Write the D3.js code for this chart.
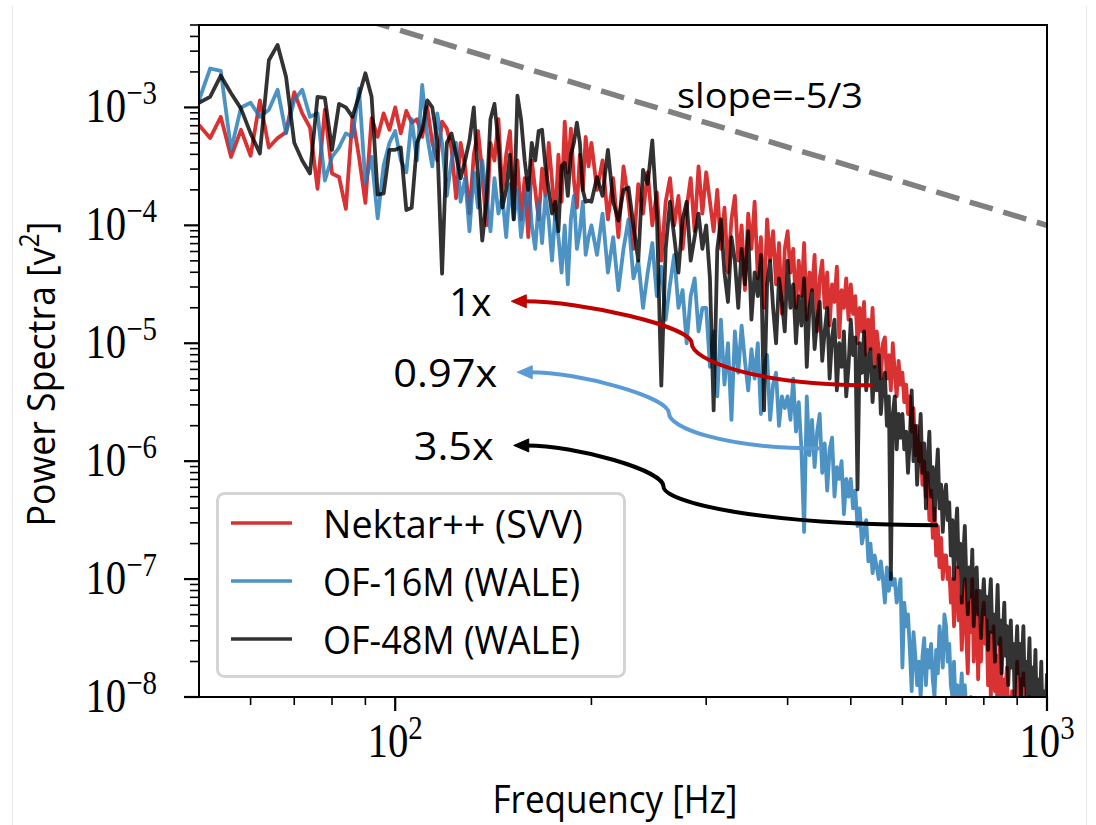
<!DOCTYPE html>
<html><head><meta charset="utf-8">
<script src="https://cdn.jsdelivr.net/npm/d3@7"></script>
<style>body{margin:0;background:#fff;} svg{display:block;}</style>
</head><body><svg id="chart" width="1096" height="825"></svg>
<script>
// ---- frequency grid rows (start Hz, step Hz); values below are log10(power)*100
const rowStart = [50,100,150,200,300,400,500,600,700,800,900,1000];
const rowStep  = [2,2,2,4,4,4,4,4,4,4,4,4];

const nektar = [
 [-315,-326,-308,-342,-319,-341,-294,-334,-326,-321,-287,-305,-317,-369,-302,-356,-359,-386,-308,-342,-381,-309,-325,-305,-319],
 [-300,-322,-303,-313,-310,-325,-300,-330,-345,-312,-318,-335,-377,-330,-350,-390,-340,-320,-355,-400,-330,-345,-310,-372,-340],
 [-320,-380,-345,-395,-360,-410,-345,-370,-395,-352,-375,-330,-362,-395,-340,-380,-312,-355,-318,-362,-385,-340,-370,-325,-350],
 [-330,-370,-345,-395,-360,-410,-350,-380,-420,-365,-390,-355,-400,-372,-430,-380,-360,-400,-375,-420,-385,-360,-405,-350,-390],
 [-355,-380,-405,-370,-420,-385,-440,-395,-375,-430,-400,-455,-390,-420,-380,-445,-410,-470,-395,-430,-405,-450,-415,-475,-420],
 [-405,-440,-420,-470,-430,-460,-415,-480,-440,-455,-425,-490,-445,-430,-470,-440,-485,-450,-465,-435,-495,-455,-470,-445,-480],
 [-450,-475,-460,-500,-470,-490,-465,-510,-480,-505,-470,-520,-490,-505,-530,-500,-495,-530,-510,-540,-500,-525,-545,-515,-535],
 [-525,-550,-535,-560,-545,-575,-555,-595,-570,-600,-585,-620,-600,-630,-610,-650,-625,-665,-640,-680,-655,-690,-665,-700,-680],
 [-680,-700,-690,-720,-700,-740,-710,-690,-735,-715,-760,-725,-700,-750,-780,-720,-745,-700,-770,-735,-710,-785,-740,-770,-730],
 [-720,-755,-735,-790,-745,-800,-760,-740,-795,-765,-820,-770,-750,-800,-785,-835,-790,-775,-820,-800,-845,-795,-830,-810,-850],
 [-770,-805,-785,-830,-800,-780,-825,-810,-845,-805,-800,-850,-830,-870,-820,-845,-875,-855,-885,-865,-895,-875,-905,-885,-915],
 [-920]
];
const of16 = [
 [-294,-267,-269,-336,-300,-296,-308,-302,-285,-322,-294,-285,-308,-305,-362,-342,-334,-322,-325,-284,-364,-342,-394,-349,-330],
 [-320,-345,-355,-310,-345,-281,-325,-350,-305,-330,-375,-345,-330,-380,-360,-405,-355,-385,-345,-375,-405,-360,-390,-375,-410],
 [-365,-395,-370,-410,-385,-360,-400,-420,-380,-415,-375,-395,-430,-390,-410,-440,-400,-450,-395,-375,-420,-405,-380,-425,-410],
 [-400,-425,-390,-440,-410,-455,-420,-395,-445,-430,-470,-440,-415,-460,-435,-480,-450,-425,-470,-455,-500,-460,-445,-490,-470],
 [-470,-520,-490,-545,-480,-535,-500,-565,-490,-525,-485,-515,-540,-505,-530,-500,-560,-520,-510,-565,-535,-525,-570,-545,-555],
 [-545,-565,-530,-575,-550,-590,-660,-545,-595,-565,-605,-575,-560,-610,-585,-625,-590,-580,-630,-605,-615,-600,-645,-615,-630],
 [-615,-640,-625,-655,-640,-670,-660,-650,-685,-670,-695,-680,-690,-700,-685,-700,-720,-690,-710,-695,-705,-700,-720,-712,-700],
 [-775,-720,-740,-730,-760,-795,-745,-765,-790,-770,-800,-766,-750,-790,-760,-775,-755,-785,-800,-760,-780,-740,-755,-775,-730],
 [-740,-770,-755,-790,-800,-770,-810,-790,-820,-800,-780,-830,-790,-810,-840,-820,-800,-850,-830,-860,-840,-870,-850,-880,-860],
 [-890,-910,-900,-930,-915,-940,-925,-950,-935,-960,-945,-970,-955,-980,-965,-990,-975,-1000,-985,-1010,-995,-1020,-1005,-1030,-1015],
 [-1020,-1040,-1030,-1050,-1040,-1060,-1050,-1070,-1060,-1080,-1070,-1090,-1080,-1100,-1090,-1110,-1100,-1120,-1110,-1130,-1120,-1140,-1130,-1150,-1140],
 [-1150]
];
const of48 = [
 [-296,-291,-273,-288,-301,-322,-339,-260,-247,-274,-330,-345,-356,-291,-292,-336,-297,-300,-308,-290,-271,-291,-374,-373,-336],
 [-336,-334,-387,-385,-330,-319,-294,-300,-328,-441,-330,-322,-340,-360,-345,-328,-300,-360,-413,-380,-310,-297,-330,-385,-370],
 [-340,-395,-290,-310,-345,-370,-330,-345,-320,-319,-350,-370,-390,-380,-405,-350,-347,-375,-340,-330,-313,-330,-370,-380,-379],
 [-380,-359,-375,-336,-380,-396,-370,-368,-400,-430,-353,-365,-328,-390,-536,-420,-380,-410,-440,-395,-380,-430,-410,-390,-420],
 [-400,-445,-557,-420,-395,-440,-465,-410,-430,-470,-420,-450,-405,-480,-440,-460,-425,-557,-450,-430,-470,-500,-445,-465,-490],
 [-430,-470,-450,-500,-460,-485,-445,-520,-470,-455,-505,-480,-465,-515,-490,-470,-530,-495,-480,-540,-500,-520,-490,-545,-520],
 [-480,-510,-495,-624,-500,-525,-490,-540,-515,-505,-550,-520,-540,-510,-560,-535,-525,-570,-545,-700,-560,-545,-590,-560,-580],
 [-560,-590,-575,-610,-580,-540,-600,-570,-620,-590,-560,-610,-585,-640,-600,-575,-630,-605,-650,-615,-590,-640,-620,-660,-630],
 [-620,-650,-635,-680,-650,-700,-660,-640,-690,-670,-720,-680,-655,-700,-730,-690,-715,-675,-740,-700,-690,-730,-710,-750,-720],
 [-700,-730,-715,-760,-720,-700,-745,-730,-770,-740,-705,-755,-735,-780,-745,-720,-765,-740,-790,-760,-735,-775,-755,-800,-765],
 [-740,-780,-755,-800,-765,-740,-790,-770,-820,-780,-750,-800,-775,-830,-790,-760,-810,-785,-840,-800,-770,-820,-795,-850,-810],
 [-780]
];

const seriesNames  = ["Nektar++ (SVV)", "OF-16M (WALE)", "OF-48M (WALE)"];
const seriesColors = ["#d62728", "#1f77b4", "#000000"];
const seriesAlpha  = [0.95, 0.8, 0.8];

const xMajorTicks = [100, 1000];
const xMajorExp   = ["2", "3"];
const yMajorTicks = [1e-8, 1e-7, 1e-6, 1e-5, 1e-4, 1e-3];
const yMajorExp   = ["−8", "−7", "−6", "−5", "−4", "−3"];

// reference -5/3 line endpoints (Hz, power)
const slopeRef = [[50, 1.47e-2], [1000, 1.0e-4]];
const slopeText = "slope=-5/3";

// speed-up annotations: head, kink, tail in data coords (Hz, power)
const arrowLabels = ["1x", "0.97x", "3.5x"];
const arrowColors = ["#c00000", "#5b9bd5", "#000000"];
const arrowHead = [[150.7, 2.27e-5], [153.9, 5.68e-6], [152, 1.36e-6]];
const arrowKink = [[285, 1.0e-5], [263, 2.55e-6], [258, 6.1e-7]];
const arrowTail = [[540, 4.4e-6], [451, 1.28e-6], [680, 2.86e-7]];

// ---------------------------------------------------------------
const svg = d3.select("#chart");
const L = 199, R = 1047, T = 25, B = 697;
const x = d3.scaleLog().domain([50, 1000]).range([L, R]);
const y = d3.scaleLog().domain([1e-8, 5e-3]).range([B, T]);

svg.append("rect").attr("width", 1096).attr("height", 825).attr("fill", "#fff");
[12.5, 1086.5].forEach(px => svg.append("line").attr("x1", px).attr("x2", px)
  .attr("y1", 6).attr("y2", 825).attr("stroke", "#e6e6e6").attr("stroke-width", 1));

svg.append("defs").append("clipPath").attr("id", "clip")
  .append("rect").attr("x", L).attr("y", T).attr("width", R - L).attr("height", B - T);

const plot = svg.append("g").attr("clip-path", "url(#clip)");

function build(rows) {
  const pts = [];
  rows.forEach((row, r) => row.forEach((v, i) => pts.push([rowStart[r] + i * rowStep[r], Math.pow(10, v / 100)])));
  return pts;
}
const allSeries = [nektar, of16, of48].map(build);
const line = d3.line().x(d => x(d[0])).y(d => y(d[1]));

allSeries.forEach((s, i) => {
  plot.append("path").datum(s).attr("d", line)
    .attr("fill", "none").attr("stroke", seriesColors[i]).attr("stroke-opacity", seriesAlpha[i])
    .attr("stroke-width", 3.8).attr("stroke-linejoin", "round");
});

// slope line
plot.append("path").datum(slopeRef).attr("d", line)
  .attr("fill", "none").attr("stroke", "#808080").attr("stroke-width", 5.5)
  .attr("stroke-dasharray", "24,11");

// arrows
arrowLabels.forEach((lab, i) => {
  const H = [x(arrowHead[i][0]), y(arrowHead[i][1])];
  const K = [x(arrowKink[i][0]), y(arrowKink[i][1])];
  const Tl = [x(arrowTail[i][0]), y(arrowTail[i][1])];
  const hl = 15, hw = 6.5;
  const Hb = [H[0] + hl - 2, H[1]];
  const d = `M${Tl[0]},${Tl[1]} C${K[0] + 0.35 * (Tl[0] - K[0])},${Tl[1]} ${K[0]},${K[1] + 0.4 * (Tl[1] - K[1])} ${K[0]},${K[1]}`
          + ` C${K[0]},${K[1] - 0.4 * (K[1] - H[1])} ${Hb[0] + 0.35 * (K[0] - Hb[0])},${H[1]} ${Hb[0]},${Hb[1]}`;
  svg.append("path").attr("d", d).attr("fill", "none").attr("stroke", arrowColors[i])
    .attr("stroke-width", 4);
  svg.append("path").attr("d", `M${H[0]},${H[1]} L${H[0] + hl},${H[1] - hw} L${H[0] + hl},${H[1] + hw} Z`)
    .attr("fill", arrowColors[i]).attr("stroke", arrowColors[i]).attr("stroke-width", 1);
  svg.append("text").attr("x", H[0] - 20).attr("y", H[1] + 15)
    .attr("text-anchor", "end").attr("font-family", "Open Sans").attr("font-size", 38)
    .attr("textLength", [42, 104, 80][i]).attr("lengthAdjust", "spacingAndGlyphs")
    .text(lab);
});

// slope text
svg.append("text").attr("x", 677).attr("y", 108).attr("font-family", "Open Sans")
  .attr("font-size", 34).attr("textLength", 186).attr("lengthAdjust", "spacingAndGlyphs").text(slopeText);

// spines
svg.append("rect").attr("x", L).attr("y", T).attr("width", R - L).attr("height", B - T)
  .attr("fill", "none").attr("stroke", "#000").attr("stroke-width", 2);

// ticks
const ax = svg.append("g").attr("stroke", "#000");
yMajorTicks.forEach(v => ax.append("line").attr("x1", L - 15).attr("x2", L).attr("y1", y(v)).attr("y2", y(v)).attr("stroke-width", 2.2));
for (let k = -8; k <= -3; k++) for (let m = 2; m <= 9; m++) {
  const v = m * Math.pow(10, k);
  if (v > 5e-3) continue;
  ax.append("line").attr("x1", L - 9).attr("x2", L).attr("y1", y(v)).attr("y2", y(v)).attr("stroke-width", 1.6);
}
xMajorTicks.forEach(v => ax.append("line").attr("x1", x(v)).attr("x2", x(v)).attr("y1", B).attr("y2", B + 14).attr("stroke-width", 2.2));
[60, 70, 80, 90, 200, 300, 400, 500, 600, 700, 800, 900].forEach(v =>
  ax.append("line").attr("x1", x(v)).attr("x2", x(v)).attr("y1", B).attr("y2", B + 8).attr("stroke-width", 1.6));

// tick labels
yMajorTicks.forEach((v, i) => {
  const t = svg.append("text").attr("transform", `translate(157,${y(v) + 15}) scale(0.85,1)`)
    .attr("text-anchor", "end").attr("font-family", "Liberation Serif");
  t.append("tspan").attr("font-size", 48).text("10");
  t.append("tspan").attr("font-size", 34).attr("dy", -18).text(yMajorExp[i]);
});
xMajorTicks.forEach((v, i) => {
  const t = svg.append("text").attr("transform", `translate(${x(v)},757) scale(0.85,1)`)
    .attr("text-anchor", "middle").attr("font-family", "Liberation Serif");
  t.append("tspan").attr("font-size", 48).text("10");
  t.append("tspan").attr("font-size", 34).attr("dy", -18).text(xMajorExp[i]);
});

// axis titles
svg.append("text").attr("x", 615).attr("y", 813).attr("text-anchor", "middle")
  .attr("font-family", "Open Sans").attr("font-size", 39)
  .attr("textLength", 245).attr("lengthAdjust", "spacingAndGlyphs").text("Frequency [Hz]");

const yt = svg.append("text").attr("text-anchor", "middle").attr("font-family", "Open Sans");
yt.append("tspan").attr("font-size", 39).text("Power Spectra [v");
yt.append("tspan").attr("font-size", 27).attr("dy", -16).text("2");
yt.append("tspan").attr("font-size", 39).attr("dy", 16).text("]");
const yw = yt.node().getComputedTextLength();
yt.attr("transform", `translate(55,374) rotate(-90) scale(${305 / yw},1)`);

// legend
const lg = svg.append("g");
lg.append("rect").attr("x", 217.5).attr("y", 493.5).attr("width", 407).attr("height", 183).attr("rx", 7)
  .attr("fill", "#fff").attr("fill-opacity", 0.8).attr("stroke", "#d4d4d4").attr("stroke-width", 3);
seriesNames.forEach((n, i) => {
  const ly = 523 + i * 58;
  lg.append("line").attr("x1", 231).attr("x2", 292).attr("y1", ly).attr("y2", ly)
    .attr("stroke", seriesColors[i]).attr("stroke-opacity", seriesAlpha[i]).attr("stroke-width", 3.6);
  lg.append("text").attr("x", 323).attr("y", ly + 15).attr("font-family", "Open Sans").attr("font-size", 38)
    .attr("textLength", [260, 257, 257][i]).attr("lengthAdjust", "spacingAndGlyphs").text(n);
});
</script></body></html>
